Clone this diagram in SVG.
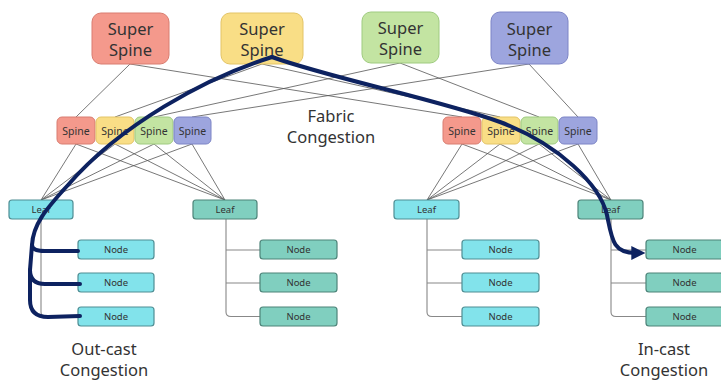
<svg xmlns="http://www.w3.org/2000/svg" width="721" height="380" viewBox="0 0 721 380">
<defs>
<style>
text{font-family:"Noto Sans","Open Sans","DejaVu Sans",sans-serif;fill:#333;text-anchor:middle}
.ss{font-size:16.5px}
.sp{font-size:10.5px}
.sm{font-size:9.5px}
.lbl{font-size:16.5px}
.red{fill:#F4998C;stroke:#D97D70;stroke-width:1}
.yel{fill:#F9DE86;stroke:#E3C467;stroke-width:1}
.grn{fill:#C3E4A2;stroke:#9FCB80;stroke-width:1}
.blu{fill:#9DA5DE;stroke:#7C84C6;stroke-width:1}
.cy{fill:#82E3EB;stroke:#4F8E94;stroke-width:1.2}
.tl{fill:#80CFBF;stroke:#4D8479;stroke-width:1.2}
.ln{stroke:#555;stroke-width:0.8;fill:none}
.tr{stroke:#888;stroke-width:1.1;fill:none}
.thick{stroke:#0D2260;stroke-width:4;fill:none;stroke-linecap:round;stroke-linejoin:round}
</style>
<marker id="ah" markerUnits="userSpaceOnUse" markerWidth="14" markerHeight="14" refX="4" refY="6" orient="auto" viewBox="0 0 12 12">
<path d="M0,0 L12,6 L0,12 Z" fill="#0D2260"/>
</marker>
</defs>
<rect width="721" height="380" fill="#fff"/>

<g id="connectors">
<path class="ln" d="M130,64 L76,117 M130,64 L462,117 M262,64 L115,117 M262,64 L500,117 M400,63 L154,117 M400,63 L539,117 M529,64 L192,117 M529,64 L578,117"/>
<path class="ln" d="M76,144 L41,200 M115,144 L41,200 M154,144 L41,200 M192,144 L41,200 M76,144 L225,200 M115,144 L225,200 M154,144 L225,200 M192,144 L225,200"/>
<path class="ln" d="M462,144 L427,200 M500,144 L427,200 M539,144 L427,200 M578,144 L427,200 M462,144 L611,200 M500,144 L611,200 M539,144 L611,200 M578,144 L611,200"/>
<path class="tr" d="M41,219 V312 Q41,316.5 46,316.5 H78 M41,250 H78 M41,283 H78"/>
<path class="tr" d="M226,219 V312 Q226,316.5 231,316.5 H260 M226,250 H260 M226,283 H260"/>
<path class="tr" d="M427,219 V312 Q427,316.5 432,316.5 H462 M427,250 H462 M427,283 H462"/>
<path class="tr" d="M611,219 V312 Q611,316.5 616,316.5 H646 M611,250 H646 M611,283 H646"/>
</g>

<g id="ss1"><rect class="red" x="92" y="13" width="77" height="51" rx="9"/><text class="ss" x="130.5" y="35">Super</text><text class="ss" x="130.5" y="56">Spine</text></g>
<g id="ss2"><rect class="yel" x="221" y="13" width="82" height="51" rx="9"/><text class="ss" x="262" y="35">Super</text><text class="ss" x="262" y="56">Spine</text></g>
<g id="ss3"><rect class="grn" x="362" y="12" width="77" height="51" rx="9"/><text class="ss" x="400.5" y="34">Super</text><text class="ss" x="400.5" y="55">Spine</text></g>
<g id="ss4"><rect class="blu" x="491" y="12" width="77" height="52" rx="9"/><text class="ss" x="529.5" y="35">Super</text><text class="ss" x="529.5" y="56">Spine</text></g>

<g id="spL1"><rect class="red" x="57" y="117" width="38" height="27" rx="5"/><text class="sp" x="76" y="134.5">Spine</text></g>
<g id="spL2"><rect class="yel" x="96" y="117" width="38" height="27" rx="5"/><text class="sp" x="115" y="134.5">Spine</text></g>
<g id="spL3"><rect class="grn" x="135" y="117" width="38" height="27" rx="5"/><text class="sp" x="154" y="134.5">Spine</text></g>
<g id="spL4"><rect class="blu" x="174" y="117" width="37" height="27" rx="5"/><text class="sp" x="192.5" y="134.5">Spine</text></g>
<g id="spR1"><rect class="red" x="443" y="117" width="38" height="27" rx="5"/><text class="sp" x="462" y="134.5">Spine</text></g>
<g id="spR2"><rect class="yel" x="482" y="117" width="38" height="27" rx="5"/><text class="sp" x="501" y="134.5">Spine</text></g>
<g id="spR3"><rect class="grn" x="521" y="117" width="37" height="27" rx="5"/><text class="sp" x="539.5" y="134.5">Spine</text></g>
<g id="spR4"><rect class="blu" x="559" y="117" width="38" height="27" rx="5"/><text class="sp" x="578" y="134.5">Spine</text></g>

<g id="leaf1"><rect class="cy" x="9" y="200" width="64" height="19" rx="3"/><text class="sm" x="41" y="213">Leaf</text></g>
<g id="leaf2"><rect class="tl" x="193" y="200" width="64" height="19" rx="3"/><text class="sm" x="225" y="213">Leaf</text></g>
<g id="leaf3"><rect class="cy" x="394" y="200" width="65" height="19" rx="3"/><text class="sm" x="426.5" y="213">Leaf</text></g>
<g id="leaf4"><rect class="tl" x="578" y="200" width="65" height="19" rx="3"/><text class="sm" x="610.5" y="213">Leaf</text></g>

<g id="n1a"><rect class="cy" x="78" y="240" width="76" height="19" rx="3"/><text class="sm" x="116" y="253">Node</text></g>
<g id="n1b"><rect class="cy" x="78" y="273" width="76" height="19" rx="3"/><text class="sm" x="116" y="286">Node</text></g>
<g id="n1c"><rect class="cy" x="78" y="307" width="76" height="19" rx="3"/><text class="sm" x="116" y="320">Node</text></g>
<g id="n2a"><rect class="tl" x="260" y="240" width="77" height="19" rx="3"/><text class="sm" x="298.5" y="253">Node</text></g>
<g id="n2b"><rect class="tl" x="260" y="273" width="77" height="19" rx="3"/><text class="sm" x="298.5" y="286">Node</text></g>
<g id="n2c"><rect class="tl" x="260" y="307" width="77" height="19" rx="3"/><text class="sm" x="298.5" y="320">Node</text></g>
<g id="n3a"><rect class="cy" x="462" y="240" width="77" height="19" rx="3"/><text class="sm" x="500.5" y="253">Node</text></g>
<g id="n3b"><rect class="cy" x="462" y="273" width="77" height="19" rx="3"/><text class="sm" x="500.5" y="286">Node</text></g>
<g id="n3c"><rect class="cy" x="462" y="307" width="77" height="19" rx="3"/><text class="sm" x="500.5" y="320">Node</text></g>
<g id="n4a"><rect class="tl" x="646" y="240" width="77" height="19" rx="3"/><text class="sm" x="684.5" y="253">Node</text></g>
<g id="n4b"><rect class="tl" x="646" y="273" width="77" height="19" rx="3"/><text class="sm" x="684.5" y="286">Node</text></g>
<g id="n4c"><rect class="tl" x="646" y="307" width="77" height="19" rx="3"/><text class="sm" x="684.5" y="320">Node</text></g>

<g id="flows">
<path class="thick" d="M272,57 C205,78 120,125 68,185 C45,210 33,225 32,245 Q32,251 45,251 L78,251"/>
<path class="thick" d="M32,245 L30,270 Q30,284 45,284 L80,284"/>
<path class="thick" d="M30,270 L30,300 Q30,317 48,317 L80,316"/>
<path class="thick" d="M272,57 C330,78 440,100 500,122 C560,145 600,185 607,215 C612,240 613,253 636,253" marker-end="url(#ah)"/>
</g>

<g id="labels">
<text class="lbl" x="331" y="122">Fabric</text>
<text class="lbl" x="331" y="143">Congestion</text>
<text class="lbl" x="104" y="355">Out-cast</text>
<text class="lbl" x="104" y="376">Congestion</text>
<text class="lbl" x="664" y="355">In-cast</text>
<text class="lbl" x="664" y="376">Congestion</text>
</g>
</svg>
